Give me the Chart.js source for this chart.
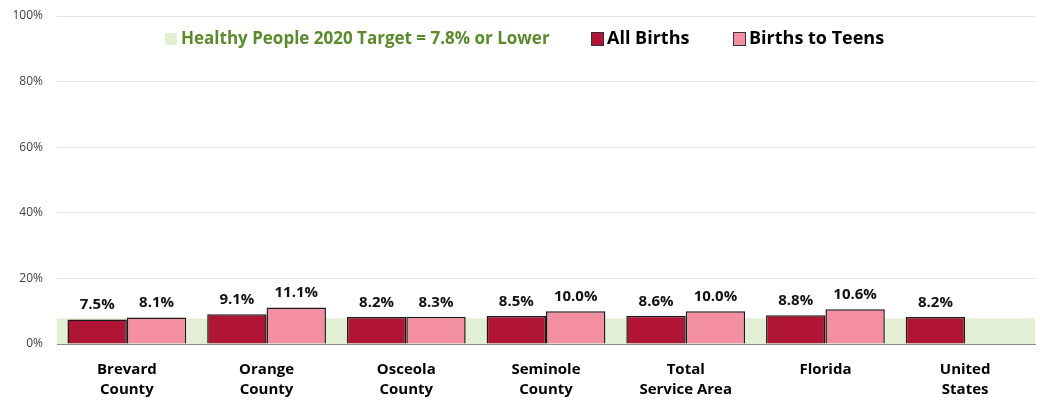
<!DOCTYPE html>
<html>
<head>
<meta charset="utf-8">
<script src="https://cdn.jsdelivr.net/npm/chart.js@4.4.1/dist/chart.umd.min.js"></script>
<style>
  html, body { margin: 0; padding: 0; background: #fff; }
  #wrap { width: 1040px; height: 400px; }
</style>
</head>
<body>
<div id="wrap"><canvas id="lbwChart"></canvas></div>
<script>
/* ---------- data ---------- */
const categories = [
  ["Brevard", "County"],
  ["Orange", "County"],
  ["Osceola", "County"],
  ["Seminole", "County"],
  ["Total", "Service Area"],
  ["Florida"],
  ["United", "States"]
];
const allBirths = [7.5, 9.1, 8.2, 8.5, 8.6, 8.8, 8.2];
const teenBirths = [8.1, 11.1, 8.3, 10.0, 10.0, 10.6, null];
const targetValue = 7.8;
const targetLabel = "Healthy People 2020 Target = 7.8% or Lower";
const yTicks = [0, 20, 40, 60, 80, 100];

const FONT = "'Open Sans', 'Noto Sans', sans-serif";

/* green target band, drawn behind bars */
const targetBand = {
  id: "targetBand",
  beforeDatasetsDraw(chart) {
    const { ctx, chartArea, scales } = chart;
    const yTop = scales.y.getPixelForValue(targetValue);
    const yBot = scales.y.getPixelForValue(0);
    ctx.save();
    ctx.fillStyle = "#e2efd4";
    ctx.fillRect(chartArea.left, yTop, chartArea.right - chartArea.left, yBot - yTop);
    ctx.restore();
  }
};

/* value labels above bars */
const valueLabels = {
  id: "valueLabels",
  afterDatasetsDraw(chart) {
    const { ctx } = chart;
    ctx.save();
    ctx.font = "bold 15px " + FONT;
    ctx.fillStyle = "#111";
    ctx.textAlign = "center";
    ctx.textBaseline = "bottom";
    chart.data.datasets.forEach((ds, i) => {
      chart.getDatasetMeta(i).data.forEach((bar, j) => {
        const v = ds.data[j];
        if (v == null) return;
        ctx.fillText(v.toFixed(1) + "%", bar.x, bar.y - 7);
      });
    });
    ctx.restore();
  }
};

/* legend inside the plot, top centre */
const innerLegend = {
  id: "innerLegend",
  afterDraw(chart) {
    const { ctx } = chart;
    const y = 39;
    ctx.save();
    ctx.textBaseline = "middle";
    ctx.textAlign = "left";

    // target swatch + text
    ctx.fillStyle = "#e2efd4";
    ctx.fillRect(165, y - 6, 12, 12);
    ctx.font = "bold 17px " + FONT;
    ctx.fillStyle = "#5b8a2e";
    ctx.fillText(targetLabel, 181, y);

    const xs = [591, 733];
    chart.data.datasets.forEach((ds, i) => {
      const x = xs[i];
      ctx.fillStyle = ds.backgroundColor;
      ctx.fillRect(x, y - 7, 13, 14);
      ctx.strokeStyle = "#333";
      ctx.lineWidth = 1;
      ctx.strokeRect(x + 0.5, y - 6.5, 12, 13);
      ctx.font = "bold 18px " + FONT;
      ctx.fillStyle = "#000";
      ctx.fillText(ds.label, x + 16, y);
    });
    ctx.restore();
  }
};

new Chart(document.getElementById("lbwChart"), {
  type: "bar",
  data: {
    labels: categories,
    datasets: [
      {
        label: "All Births",
        data: allBirths,
        backgroundColor: "#b01535",
        borderColor: "#1a1a1a",
        borderWidth: 1.5,
        categoryPercentage: 0.85,
        barPercentage: 1
      },
      {
        label: "Births to Teens",
        data: teenBirths,
        backgroundColor: "#f38fa1",
        borderColor: "#1a1a1a",
        borderWidth: 1.5,
        categoryPercentage: 0.85,
        barPercentage: 1
      }
    ]
  },
  options: {
    responsive: true,
    maintainAspectRatio: false,
    animation: false,
    layout: {
      padding: { top: 16, right: 5, left: 0, bottom: 0 }
    },
    plugins: {
      legend: { display: false },
      tooltip: { enabled: false }
    },
    scales: {
      x: {
        grid: { display: false },
        border: { color: "#8c8c8c", width: 1 },
        ticks: {
          color: "#000",
          padding: 8,
          maxRotation: 0,
          font: { family: FONT, size: 15, weight: "bold", lineHeight: 1.3 }
        },
        afterFit(scale) {
          scale.height = 56;
          scale.paddingLeft = 0;
          scale.paddingRight = 0;
        }
      },
      y: {
        min: 0,
        max: 100,
        afterBuildTicks(scale) {
          scale.ticks = yTicks.map(v => ({ value: v }));
        },
        grid: { color: "#e3e3e3", drawTicks: false },
        border: { display: false },
        ticks: {
          color: "#404040",
          padding: 14,
          font: { family: FONT, size: 12 },
          callback: v => v + "%"
        },
        afterFit(scale) {
          scale.width = 57;
          scale.paddingTop = 0;
          scale.paddingBottom = 0;
        }
      }
    }
  },
  plugins: [targetBand, valueLabels, innerLegend]
});
</script>
</body>
</html>
